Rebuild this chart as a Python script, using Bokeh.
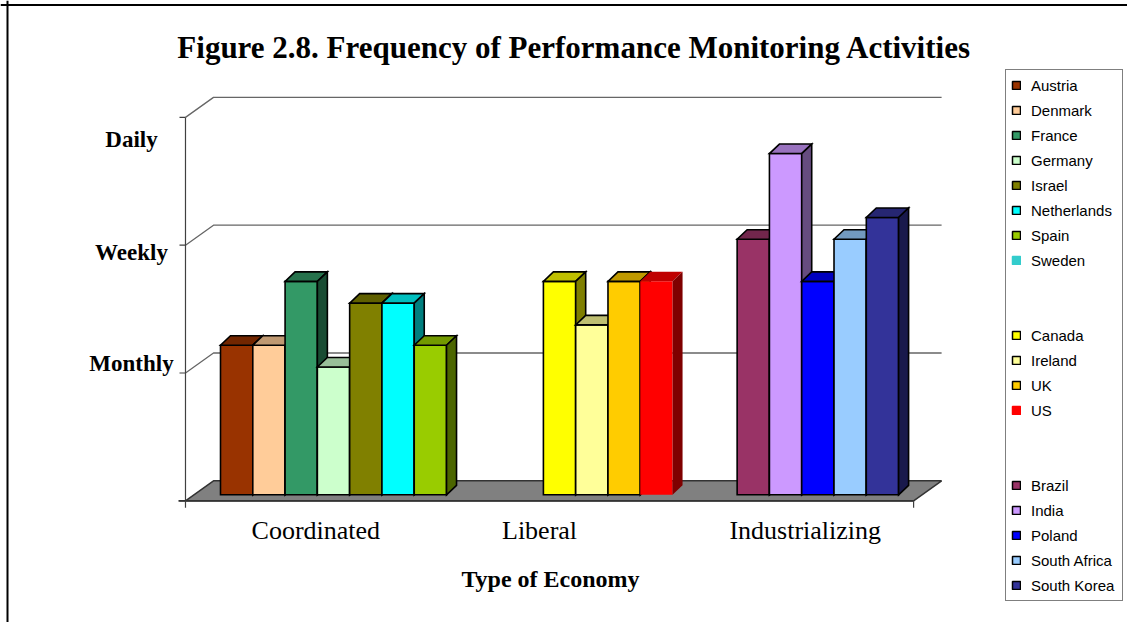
from bokeh.plotting import figure
from bokeh.models import Range1d, Legend, LegendItem, ColumnDataSource, Span
from bokeh.core.properties import value
from bokeh.embed import file_html
from bokeh.resources import INLINE

# ---------------- data ----------------
title_text = "Figure 2.8. Frequency of Performance Monitoring Activities"
x_title = "Type of Economy"
economies = ["Coordinated", "Liberal", "Industrializing"]

coordinated_countries = ["Austria", "Denmark", "France", "Germany", "Israel",
                         "Netherlands", "Spain", "Sweden"]
coordinated_values = [1.17, 1.17, 1.67, 1.0, 1.5, 1.5, 1.17, None]

liberal_countries = ["Canada", "Ireland", "UK", "US"]
liberal_values = [1.67, 1.33, 1.67, 1.67]

industrializing_countries = ["Brazil", "India", "Poland", "South Africa", "South Korea"]
industrializing_values = [2.0, 2.67, 1.67, 2.0, 2.17]

level_labels = ["Monthly", "Weekly", "Daily"]
level_values = [1, 2, 3]
grid_levels = [0, 1, 2, 3]

# ---------------- styles ----------------
coordinated_colors = ["#993300", "#FFCC99", "#339966", "#CCFFCC", "#808000",
                      "#00FFFF", "#99CC00", "#33CCCC"]
liberal_colors = ["#FFFF00", "#FFFF99", "#FFCC00", "#FF0000"]
industrializing_colors = ["#993366", "#CC99FF", "#0000FF", "#99CCFF", "#333399"]
no_outline = {"Sweden", "US"}
level_label_offsets_px = [-10, 7, 22]
category_label_dx_px = [9, -10, 13]

groups = [
    (coordinated_countries, coordinated_values, coordinated_colors),
    (liberal_countries, liberal_values, liberal_colors),
    (industrializing_countries, industrializing_values, industrializing_colors),
]

# ---------------- layout ----------------
W, H = 1127, 622
PAGE_OFF = 0
SLOT_PX = 32.29          # width of one bar in pixels
UNIT_PX = 127.8          # pixels per frequency level
REF_SLOT0_X = 220.0      # left of first bar
REF_ZERO_Y = 494.3       # base of bars
GROUP_GAP = 2
PAD_L, PAD_R = 0.824, 0.725
NAN = float("nan")

def px(d):
    return d / SLOT_PX

def py(d):
    return d / UNIT_PX

def ref_x(X):
    return (X - REF_SLOT0_X) / SLOT_PX

def ref_y(Y):
    return (REF_ZERO_Y - Y) / UNIT_PX

x_start = (PAGE_OFF - REF_SLOT0_X) / SLOT_PX
x_end = x_start + W / SLOT_PX
y_end = (REF_ZERO_Y - PAGE_OFF) / UNIT_PX
y_start = y_end - H / UNIT_PX

p = figure(width=W, height=H, output_backend="svg", toolbar_location=None,
           x_axis_type=None, y_axis_type=None, min_border=0,
           x_range=Range1d(x_start, x_end), y_range=Range1d(y_start, y_end))
p.outline_line_color = None
p.background_fill_color = "white"
p.border_fill_color = "white"

# slots for bars
slots = []
k = 0
for names, vals, cols in groups:
    for n, v, c in zip(names, vals, cols):
        slots.append((k, n, v, c))
        k += 1
    k += GROUP_GAP
n_slots = k - GROUP_GAP

# floor geometry (front plane and back plane offsets relative to bar plane)
F_DX, F_DY = px(-8.4), py(-6)
B_DX, B_DY = px(19.6), py(14)
xl, xr = -PAD_L, n_slots + PAD_R
FLx, FRx = xl + F_DX, xr + F_DX
BLx, BRx = xl + B_DX, xr + B_DX

grid_col = "#666666"
# side-wall diagonals and back-wall gridlines
for v in grid_levels[1:]:
    p.line([FLx, BLx, BRx], [v + F_DY, v + B_DY, v + B_DY],
           line_color=grid_col, line_width=1.3)

# floor
p.patch([FLx, FRx, BRx, BLx], [F_DY, F_DY, B_DY, B_DY],
        fill_color="#808080", line_color="#333333", line_width=1.5)

# value axis line and ticks
p.line([FLx, FLx], [F_DY, grid_levels[-1] + F_DY], line_color="#404040", line_width=1.2)
p.segment(x0=[FLx - px(6)] * len(grid_levels), y0=[v + F_DY for v in grid_levels],
          x1=[FLx] * len(grid_levels), y1=[v + F_DY for v in grid_levels],
          line_color="#404040", line_width=1.2)
# category axis line and end ticks
p.line([FLx - px(7), FRx], [F_DY, F_DY], line_color="#333333", line_width=1.8)
p.segment(x0=[FLx, FRx], y0=[F_DY, F_DY], x1=[FLx, FRx], y1=[F_DY - py(7)] * 2,
          line_color="#404040", line_width=1.2)

# 3D bars
def shade(hexc, f):
    h = hexc.lstrip("#")
    r, g, b = (int(h[i:i + 2], 16) for i in (0, 2, 4))
    return "#%02x%02x%02x" % (int(r * f), int(g * f), int(b * f))

ddx, ddy = px(10), py(9.5)
xs, ys, fills, lcols, lalphas = [], [], [], [], []
for k, n, v, c in slots:
    if v is None:
        continue
    faces = [
        ([k, k + 1, k + 1, k], [0, 0, v, v], c),
        ([k, k + 1, k + 1 + ddx, k + ddx], [v, v, v + ddy, v + ddy], shade(c, 0.75)),
        ([k + 1, k + 1 + ddx, k + 1 + ddx, k + 1], [0, ddy, v + ddy, v], shade(c, 0.5)),
    ]
    for fx, fy, fc in faces:
        xs.append(fx)
        ys.append(fy)
        fills.append(fc)
        lcols.append("black")
        lalphas.append(0.0 if n in no_outline else 1.0)

bars = ColumnDataSource(dict(xs=xs, ys=ys, fill=fills, lc=lcols, la=lalphas))
p.patches("xs", "ys", source=bars, fill_color="fill", line_color="lc",
          line_alpha="la", line_width=1.6, line_join="miter")

# value level labels
lab_src = ColumnDataSource(dict(
    x=[ref_x(131)] * len(level_labels),
    y=[v + F_DY for v in level_values],
    t=level_labels, off=level_label_offsets_px))
p.text("x", "y", text="t", y_offset="off", source=lab_src,
       text_font=value("Liberation Serif"), text_font_style="bold",
       text_font_size="23px", text_align="center", text_baseline="middle",
       text_color="black")

# category labels
cw = (FRx - FLx) / len(economies)
cat_src = ColumnDataSource(dict(
    x=[FLx + (i + 0.5) * cw for i in range(len(economies))],
    y=[F_DY - py(30)] * len(economies), t=economies, dx=category_label_dx_px))
p.text("x", "y", text="t", x_offset="dx", source=cat_src,
       text_font=value("Liberation Serif"),
       text_font_size="26px", text_align="center", text_baseline="middle",
       text_color="black")

# titles
p.text(x=[ref_x(574)], y=[ref_y(47)], text=[title_text],
       text_font=value("Liberation Serif"), text_font_style="bold",
       text_font_size="31px", text_align="center", text_baseline="middle",
       text_color="black")
p.text(x=[ref_x(550)], y=[ref_y(578)], text=[x_title],
       text_font=value("Liberation Serif"), text_font_style="bold",
       text_font_size="24px", text_align="center", text_baseline="middle",
       text_color="black")

# outer border (top and left)
p.add_layout(Span(location=ref_y(4.5), dimension="width",
                  line_color="black", line_width=2))
p.add_layout(Span(location=ref_x(7), dimension="height",
                  line_color="black", line_width=2))

# legend (each entry's renderer holds one NaN row, so it draws nothing in the plot)
items = []
for gi, (names, vals, cols) in enumerate(groups):
    if gi > 0:
        for _ in range(2):
            r = p.quad(left=[NAN], right=[NAN], top=[NAN], bottom=[NAN],
                       fill_alpha=0, line_alpha=0)
            items.append(LegendItem(label=" ", renderers=[r]))
    for n, c in zip(names, cols):
        r = p.quad(left=[NAN], right=[NAN], top=[NAN], bottom=[NAN], fill_color=c,
                   line_color=c if n in no_outline else "black",
                   line_width=1.5)
        items.append(LegendItem(label=n, renderers=[r]))

legend = Legend(items=items, location=(1005 - PAGE_OFF, (H + PAGE_OFF) - 601),
                padding=5, spacing=5,
                glyph_width=10, glyph_height=10, label_height=20,
                label_standoff=10, label_width=86, margin=0,
                border_line_color="black", border_line_width=1.3,
                background_fill_color="white", background_fill_alpha=1,
                label_text_font="Liberation Sans", label_text_font_size="15px",
                label_text_color="black")
p.add_layout(legend)

open("out.html", "w").write(file_html(p, INLINE))
